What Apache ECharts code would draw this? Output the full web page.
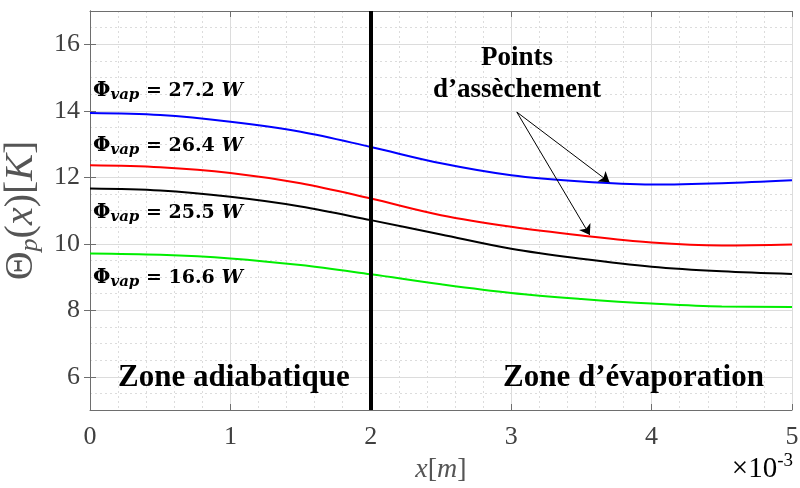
<!DOCTYPE html>
<html>
<head>
<meta charset="utf-8">
<script src="https://cdn.jsdelivr.net/npm/echarts@6/dist/echarts.min.js"></script>
<style>html,body{margin:0;padding:0;background:#fff}#c{width:800px;height:488px}</style>
</head>
<body>
<div id="c"></div>
<script>
const xValues = [0, 0.5, 1, 1.5, 2, 2.5, 3, 3.5, 4, 4.5, 5];
const blueValues  = [13.93, 13.87, 13.67, 13.37, 12.91, 12.42, 12.06, 11.87, 11.78, 11.82, 11.91];
const redValues   = [12.36, 12.30, 12.13, 11.82, 11.36, 10.86, 10.51, 10.25, 10.04, 9.95, 9.98];
const blackValues = [11.66, 11.60, 11.41, 11.12, 10.71, 10.28, 9.85, 9.55, 9.31, 9.17, 9.09];
const greenValues = [9.71, 9.67, 9.56, 9.36, 9.08, 8.78, 8.52, 8.34, 8.20, 8.11, 8.10];
const yTicks = [6, 8, 10, 12, 14, 16];
const seriesLabels = ['27.2', '26.4', '25.5', '16.6'];
const zoneBoundary = 2;
const arrowStart = [3.04, 13.96];
const arrowEnds = [[3.70, 11.85], [3.56, 10.26]];

const pair = v => xValues.map((x, i) => [x, v[i]]);
const tickColor = '#404040';
const serif = '"Liberation Serif", "Times New Roman", serif';
const mathFont = '"DejaVu Serif", serif';

const chart = echarts.init(document.getElementById('c'));
const base = {color: '#111', textBorderWidth: 0, textBorderColor: 'transparent'};
const phiRich = {
  phi: Object.assign({fontFamily: mathFont, fontWeight: 'bold', fontSize: 20}, base),
  sub: Object.assign({fontFamily: mathFont, fontWeight: 'bold', fontStyle: 'italic', fontSize: 15, verticalAlign: 'bottom', padding: [9, 0, 0, 0]}, base),
  eq: Object.assign({fontFamily: mathFont, fontWeight: 'bold', fontSize: 19}, base),
  w: Object.assign({fontFamily: mathFont, fontWeight: 'bold', fontStyle: 'italic', fontSize: 19}, base)
};
const labelY = [91, 146, 213, 278];
const graphics = seriesLabels.map((s, i) => ({
  type: 'text', x: 93, y: labelY[i], z: 10,
  style: {text: '{phi|Φ}{sub|vap}{eq| = ' + s + ' }{w|W}', rich: phiRich, textVerticalAlign: 'middle', stroke: 'transparent', lineWidth: 0}
}));
const bigText = (txt, x, y, size, align) => ({
  type: 'text', x: x, y: y, z: 10,
  style: {text: txt, font: 'bold ' + size + 'px ' + serif, fill: '#000', stroke: 'transparent', lineWidth: 0,
          textAlign: align || 'left', textVerticalAlign: 'middle'}
});
graphics.push(bigText('Zone adiabatique', 118, 378, 31));
graphics.push(bigText('Zone d\u2019évaporation', 503, 378, 31));
graphics.push(bigText('Points', 517, 58, 27, 'center'));
graphics.push(bigText('d\u2019assèchement', 517, 90, 27, 'center'));
graphics.push({
  type: 'text', x: 793, y: 469, z: 10,
  style: {text: '{a|×10}{s|-3}', textAlign: 'right', textVerticalAlign: 'middle', stroke: 'transparent', lineWidth: 0, rich: {
    a: {fontFamily: serif, fontSize: 29, color: tickColor},
    s: {fontFamily: serif, fontSize: 19, color: tickColor, verticalAlign: 'top', padding: [0, 0, 16, 0]}
  }}
});

const mkLine = (color, data, extra) => Object.assign({
  type: 'line', data: pair(data), smooth: 0.35, showSymbol: false, symbol: 'none',
  lineStyle: {color: color, width: 2}, itemStyle: {color: color}, z: 3, animation: false
}, extra || {});

const option = {
  animation: false,
  grid: {left: 90, right: 8, top: 11, bottom: 78, containLabel: false, outerBoundsMode: 'none'},
  xAxis: [{
    type: 'value', min: 0, max: 5, interval: 1,
    name: '{i|x}{n|[}{i|m}{n|]}', nameLocation: 'middle', nameGap: 46,
    nameTextStyle: {fontSize: 28, rich: {
      i: {fontFamily: serif, fontStyle: 'italic', fontSize: 28, color: '#555'},
      n: {fontFamily: serif, fontSize: 28, color: '#555'}
    }},
    axisLine: {show: true, lineStyle: {color: '#6e6e6e', width: 1}},
    axisTick: {show: true, inside: true, length: 6, lineStyle: {color: '#6e6e6e'}},
    axisLabel: {fontFamily: serif, fontSize: 26, color: tickColor, margin: 14},
    splitLine: {show: true, lineStyle: {color: '#dcdcdc', width: 1}},
    minorTick: {show: false, splitNumber: 5},
    minorSplitLine: {show: true, lineStyle: {color: '#dcdcdc', width: 1, type: [2, 3]}}
  }, {
    type: 'value', min: 0, max: 5, interval: 1, position: 'top',
    axisLine: {show: true, lineStyle: {color: '#6e6e6e', width: 1}},
    axisTick: {show: true, inside: true, length: 6, lineStyle: {color: '#6e6e6e'}},
    axisLabel: {show: false}, splitLine: {show: false}
  }],
  yAxis: [{
    type: 'value', min: 5, max: 17,
    name: '{a|Θ}{s|p}{a|(}{i|x}{a|)[}{i|K}{a|]}', nameLocation: 'middle', nameGap: 46, nameRotate: 90,
    nameTextStyle: {fontSize: 40, fontFamily: serif, color: '#555', rich: {
      a: {fontFamily: serif, fontSize: 40, color: '#555'},
      i: {fontFamily: serif, fontStyle: 'italic', fontSize: 40, color: '#555'},
      s: {fontFamily: serif, fontStyle: 'italic', fontSize: 26, color: '#555', verticalAlign: 'bottom', padding: [18, 0, 0, 0]}
    }},
    axisLine: {show: true, lineStyle: {color: '#6e6e6e', width: 1}},
    axisTick: {show: true, inside: true, length: 6, customValues: yTicks, lineStyle: {color: '#6e6e6e'}},
    axisLabel: {customValues: yTicks, fontFamily: serif, fontSize: 26, color: tickColor, margin: 10},
    splitLine: {show: true, lineStyle: {color: '#dcdcdc', width: 1}}
  }, {
    type: 'value', min: 5, max: 17, position: 'right',
    axisLine: {show: true, lineStyle: {color: '#6e6e6e', width: 1}},
    axisTick: {show: true, inside: true, length: 6, customValues: yTicks, lineStyle: {color: '#6e6e6e'}},
    axisLabel: {show: false}, splitLine: {show: false}
  }, {
    type: 'value', min: 5, max: 17, interval: 0.5, position: 'left', show: true,
    axisLine: {show: false}, axisTick: {show: false}, axisLabel: {show: false},
    splitLine: {show: true, lineStyle: {color: '#dcdcdc', width: 1, type: [2, 3]}}
  }],
  graphic: graphics,
  series: [
    mkLine('#0000ff', blueValues, {
      markLine: {
        silent: true, symbol: ['none', 'arrow'], symbolSize: 10,
        lineStyle: {color: '#000', width: 1, type: 'solid'}, label: {show: false},
        emphasis: {disabled: true},
        data: arrowEnds.map(e => [{coord: arrowStart}, {coord: e}])
      }
    }),
    mkLine('#ff0000', redValues),
    mkLine('#000000', blackValues, {
      markLine: {
        silent: true, symbol: 'none', label: {show: false},
        lineStyle: {color: '#000', width: 4, type: 'solid'},
        data: [{xAxis: zoneBoundary}]
      }
    }),
    mkLine('#00ee00', greenValues)
  ]
};
chart.setOption(option);
</script>
</body>
</html>
